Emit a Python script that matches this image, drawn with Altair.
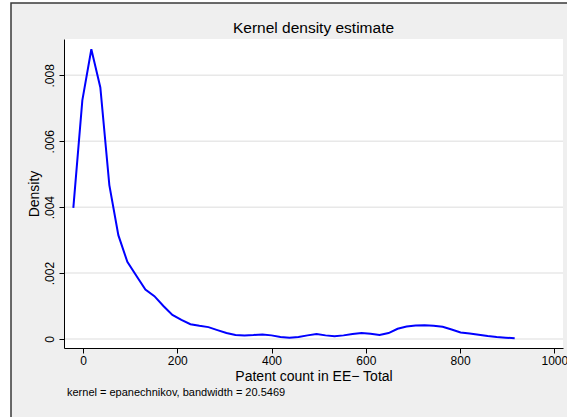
import altair as alt
import pandas as pd

# Kernel density estimate of patent counts (50 evaluation points)
patent_count = [
    -20.5, -1.4, 17.7, 36.8, 55.9, 75.0, 94.1, 113.2, 132.4, 151.5,
    170.6, 189.7, 208.8, 227.9, 247.0, 266.1, 285.2, 304.4, 323.5, 342.6,
    361.7, 380.8, 399.9, 419.0, 438.1, 457.2, 476.4, 495.5, 514.6, 533.7,
    552.8, 571.9, 591.0, 610.1, 629.2, 648.4, 667.5, 686.6, 705.7, 724.8,
    743.9, 763.0, 782.1, 801.2, 820.4, 839.5, 858.6, 877.7, 896.8, 915.9,
]
density = [
    0.00398, 0.00724, 0.00879, 0.00763, 0.00467, 0.00315, 0.00234, 0.00192, 0.00150, 0.00130,
    0.00100, 0.00073, 0.00058, 0.00045, 0.00040, 0.00036, 0.00027, 0.00018, 0.00012, 0.00011,
    0.00012, 0.00014, 0.00011, 0.00006, 0.00004, 0.00006, 0.00011, 0.00015, 0.00011, 0.00008,
    0.00011, 0.00015, 0.00018, 0.00016, 0.00012, 0.00018, 0.00031, 0.00038, 0.00041, 0.00042,
    0.00040, 0.00037, 0.00029, 0.00020, 0.00017, 0.00013, 0.00009, 0.00006, 0.00004, 0.00002,
]
y_ticks = [0, 0.002, 0.004, 0.006, 0.008]
x_ticks = [0, 200, 400, 600, 800, 1000]

FONT = "Liberation Sans"
W, H = 499, 309

df = pd.DataFrame({"x": patent_count, "y": density})
grid_df = pd.DataFrame({"y": y_ticks})
one = alt.Data(values=[{"k": 1}])

x_scale = alt.Scale(domain=[-40.3, 1018.4], nice=False, zero=False)
y_scale = alt.Scale(domain=[-0.000273, 0.009101], nice=False, zero=False)

y_axis = alt.Axis(
    values=y_ticks, grid=False, domainColor="black", tickColor="black",
    tickSize=5, labelPadding=3, labelFontSize=12, labelColor="black",
    labelFont=FONT, labelAngle=270, labelAlign="center",
    labelBaseline="bottom", labelFlush=False,
    labelExpr="datum.value == 0 ? '0' : replace(format(datum.value, '.3f'), '0.', '.')",
    titleFont=FONT, titleFontSize=14, titleFontWeight="normal",
    titleColor="black", titleBaseline="alphabetic", titleX=-26, zindex=1,
)
x_axis = alt.Axis(
    values=x_ticks, format="d", grid=False, domainColor="black", tickColor="black",
    tickSize=5, labelPadding=2, labelFontSize=12, labelColor="black",
    labelFont=FONT, titleFont=FONT, titleFontSize=14,
    titleFontWeight="normal", titleColor="black",
    titleBaseline="alphabetic", titleY=32, zindex=1, labelFlush=False,
)

# graph region: grey fill with a dark frame
frame = alt.Chart(one).mark_rect(
    fill="#efefef", stroke="#3a3a3a", strokeWidth=1.5
).encode(
    x=alt.value(-53), x2=alt.value(W + 30),
    y=alt.value(-36), y2=alt.value(H + 100),
)

# white plot region
plot_bg = alt.Chart(one).mark_rect(fill="white").encode(
    x=alt.value(0), x2=alt.value(W), y=alt.value(0), y2=alt.value(H)
)

grid = alt.Chart(grid_df).mark_rule(color="#e8e8e8", strokeWidth=1.5).encode(
    y=alt.Y("y:Q", scale=y_scale, title="Density", axis=y_axis),
    x=alt.value(0), x2=alt.value(W),
)

line = alt.Chart(df).mark_line(color="#0000ff", strokeWidth=2).encode(
    x=alt.X("x:Q", scale=x_scale, title="Patent count in EE\u2212 Total", axis=x_axis),
    y=alt.Y("y:Q", scale=y_scale, title="Density", axis=y_axis),
)

title = alt.Chart(one).mark_text(
    text="Kernel density estimate", font=FONT, fontSize=15.5, color="black",
    align="center", baseline="middle",
).encode(x=alt.value(W / 2), y=alt.value(-11))

note = alt.Chart(one).mark_text(
    text="kernel = epanechnikov, bandwidth = 20.5469",
    font=FONT, fontSize=11, color="black", align="left", baseline="middle",
).encode(x=alt.value(3), y=alt.value(354))

chart = alt.layer(frame, plot_bg, grid, line, title, note).properties(
    width=W, height=H,
    autosize=alt.AutoSizeParams(type="none"),
    padding={"left": 64, "top": 39, "right": 4, "bottom": 69},
).configure_view(stroke=None, fill="white").configure(background="white")

chart.save("out.html", embed_options={"renderer": "svg", "actions": False})
